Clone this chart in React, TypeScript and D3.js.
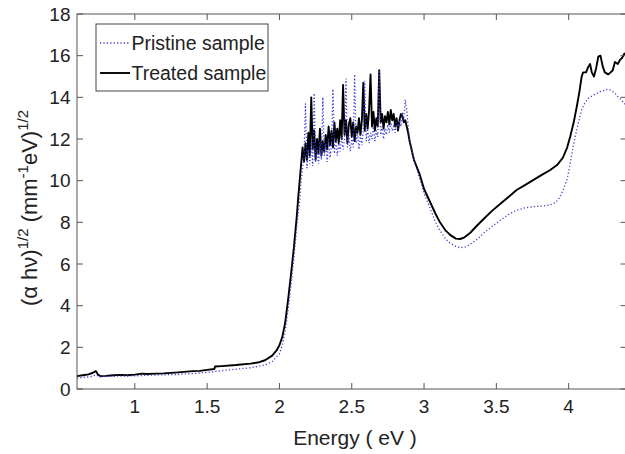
import React from "react";
import * as d3 from "d3";

const treatedLow: [number, number][] = [
  [0.6, 0.62], [0.64, 0.66], [0.68, 0.7], [0.71, 0.78], [0.73, 0.86], [0.745, 0.7], [0.76, 0.62],
  [0.8, 0.63], [0.85, 0.66], [0.9, 0.68], [0.95, 0.66], [1.0, 0.69], [1.05, 0.74], [1.08, 0.72],
  [1.15, 0.74], [1.2, 0.75], [1.3, 0.8], [1.4, 0.86], [1.45, 0.87], [1.5, 0.92], [1.55, 0.96],
  [1.555, 1.08], [1.6, 1.1], [1.7, 1.15], [1.8, 1.22], [1.85, 1.27], [1.9, 1.38], [1.95, 1.6],
  [1.98, 1.85], [2.0, 2.1], [2.02, 2.5], [2.04, 3.2], [2.06, 4.3], [2.08, 5.5], [2.1, 6.8],
  [2.12, 8.3], [2.13, 9.2],
];

// noisy plateau, 2.14 .. 2.90 at 0.01 eV steps
const treatedNoisy: number[] = [
  10.0, 10.8, 11.6, 10.9, 11.8, 11.0, 12.3, 11.2, 14.0, 11.5,
  12.4, 11.0, 12.0, 11.3, 12.5, 11.2, 11.9, 11.4, 12.2, 11.5,
  12.6, 11.7, 12.4, 11.6, 12.8, 11.9, 12.5, 11.8, 12.9, 12.0,
  14.6, 12.2, 12.9, 11.8, 12.7, 13.0, 12.1, 12.8, 11.9, 12.6,
  12.3, 13.0, 12.2, 12.9, 14.7, 12.4, 13.2, 12.5, 13.4, 15.1,
  12.6, 13.3, 12.4, 13.0, 12.6, 15.3, 12.8, 13.2, 12.5, 13.1,
  12.8, 13.3, 12.7, 13.4, 12.9, 13.2, 12.6, 13.0, 12.4, 12.9,
  13.2, 13.1, 12.8, 12.9, 12.6, 12.3, 11.9,
];

const treatedHigh: [number, number][] = [
  [2.93, 11.0], [2.97, 10.3], [3.0, 9.6], [3.04, 9.0], [3.08, 8.4], [3.11, 8.0], [3.15, 7.6],
  [3.18, 7.4], [3.22, 7.22], [3.25, 7.2], [3.28, 7.28], [3.32, 7.5], [3.36, 7.8], [3.41, 8.15],
  [3.47, 8.55], [3.53, 8.9], [3.59, 9.25], [3.64, 9.55], [3.7, 9.8], [3.76, 10.05], [3.82, 10.3],
  [3.87, 10.5], [3.92, 10.75], [3.96, 11.1], [3.99, 11.6], [4.01, 12.1], [4.035, 12.8],
  [4.056, 13.55], [4.075, 14.3], [4.09, 15.0], [4.1, 15.2], [4.12, 15.2], [4.135, 15.45],
  [4.148, 15.6], [4.16, 15.2], [4.175, 15.0], [4.19, 15.4], [4.205, 15.95], [4.22, 16.0],
  [4.235, 15.5], [4.25, 15.2], [4.274, 15.1], [4.29, 15.2], [4.305, 15.3], [4.32, 15.7],
  [4.34, 15.6], [4.355, 15.8], [4.37, 15.9], [4.385, 16.1], [4.4, 16.0],
];

const pristineLow: [number, number][] = [
  [0.6, 0.52], [0.65, 0.56], [0.7, 0.6], [0.73, 0.68], [0.76, 0.58], [0.8, 0.6], [0.9, 0.62],
  [1.0, 0.63], [1.1, 0.66], [1.2, 0.68], [1.3, 0.7], [1.4, 0.74], [1.5, 0.8], [1.6, 0.88],
  [1.7, 0.95], [1.8, 1.02], [1.9, 1.15], [1.95, 1.32], [2.0, 1.7], [2.02, 2.1], [2.04, 2.8],
  [2.06, 3.8], [2.08, 5.0], [2.1, 6.3], [2.12, 7.8], [2.13, 8.5],
];

const pristineNoisy: number[] = [
  9.0, 10.0, 10.6, 11.2, 13.7, 10.6, 11.5, 10.8, 11.9, 10.7,
  14.2, 10.9, 11.6, 10.8, 11.9, 11.0, 14.0, 11.2, 11.8, 10.9,
  12.0, 11.1, 11.7, 14.4, 11.3, 12.0, 11.2, 11.8, 11.4, 12.1,
  11.5, 12.0, 14.9, 11.6, 12.2, 11.4, 12.0, 11.6, 15.1, 11.8,
  12.3, 11.5, 12.2, 11.7, 12.4, 14.8, 11.9, 12.5, 11.8, 12.3,
  12.0, 12.6, 11.9, 12.4, 12.1, 15.3, 12.2, 12.6, 12.0, 12.5,
  12.2, 12.7, 12.3, 12.8, 12.4, 12.6, 12.3, 12.8, 12.5, 12.9,
  12.6, 13.3, 12.9, 13.9, 13.4, 12.6, 12.0,
];

const pristineHigh: [number, number][] = [
  [2.93, 11.0], [2.97, 10.1], [3.0, 9.4], [3.04, 8.7], [3.08, 8.0], [3.11, 7.6], [3.15, 7.2],
  [3.18, 7.0], [3.22, 6.85], [3.25, 6.78], [3.29, 6.82], [3.33, 7.0], [3.37, 7.2], [3.41, 7.47],
  [3.47, 7.8], [3.53, 8.12], [3.59, 8.4], [3.64, 8.58], [3.7, 8.7], [3.76, 8.75], [3.82, 8.78],
  [3.87, 8.83], [3.91, 8.95], [3.94, 9.2], [3.965, 9.6], [3.99, 10.1], [4.01, 10.8], [4.03, 11.6],
  [4.056, 12.45], [4.075, 13.0], [4.09, 13.4], [4.11, 13.7], [4.135, 13.95], [4.17, 14.1],
  [4.217, 14.27], [4.263, 14.38], [4.29, 14.35], [4.32, 14.2], [4.345, 14.0], [4.366, 13.87],
  [4.38, 13.75], [4.4, 13.6],
];

const xTicks = [1, 1.5, 2, 2.5, 3, 3.5, 4];
const yTicks = [0, 2, 4, 6, 8, 10, 12, 14, 16, 18];
const legendLabels = ["Pristine sample", "Treated sample"];

const noisyStart = 2.14;
const noisyStep = 0.01;

function assemble(low: [number, number][], noisy: number[], high: [number, number][]) {
  const mid: [number, number][] = noisy.map((v, i) => [+(noisyStart + i * noisyStep).toFixed(3), v]);
  return [...low, ...mid, ...high];
}

const W = 625;
const H = 454;
const left = 77;
const right = 626.5;
const top = 14;
const bottom = 389;

export default function App() {
  const x = d3.scaleLinear().domain([0.6, 4.4]).range([left, right]);
  const y = d3.scaleLinear().domain([0, 18]).range([bottom, top]);
  const line = d3
    .line<[number, number]>()
    .x((d) => x(d[0]))
    .y((d) => y(d[1]));

  const treated = assemble(treatedLow, treatedNoisy, treatedHigh);
  const pristine = assemble(pristineLow, pristineNoisy, pristineHigh);

  const axisColor = "#555";
  const font = "'Liberation Sans', Arial, Helvetica, sans-serif";
  const tl = 6;

  return (
    <svg
      width={W}
      height={H}
      style={{ position: "absolute", left: 0, top: 0, background: "#fff" }}
      fontFamily={font}
    >
      <rect x={0} y={0} width={W} height={H} fill="#fff" />
      {/* curves */}
      <path d={line(treated) ?? ""} fill="none" stroke="#000" strokeWidth={1.9} strokeLinejoin="round" />
      <path
        d={line(pristine) ?? ""}
        fill="none"
        stroke="#3a3ad6"
        strokeWidth={1.3}
        strokeDasharray="1.2 2.2"
      />
      {/* box */}
      <rect x={left} y={top} width={right - left} height={bottom - top} fill="none" stroke={axisColor} strokeWidth={1} />
      {xTicks.map((t) => (
        <g key={"x" + t}>
          <line x1={x(t)} x2={x(t)} y1={bottom} y2={bottom - tl} stroke={axisColor} />
          <line x1={x(t)} x2={x(t)} y1={top} y2={top + tl} stroke={axisColor} />
          <text x={x(t)} y={413} textAnchor="middle" fontSize={19} fill="#222">
            {t}
          </text>
        </g>
      ))}
      {yTicks.map((t) => (
        <g key={"y" + t}>
          <line x1={left} x2={left + tl} y1={y(t)} y2={y(t)} stroke={axisColor} />
          <line x1={right} x2={right - tl} y1={y(t)} y2={y(t)} stroke={axisColor} />
          <text x={70.5} y={y(t) + 6.8} textAnchor="end" fontSize={19} fill="#222">
            {t}
          </text>
        </g>
      ))}
      {/* x label */}
      <text x={355} y={445} textAnchor="middle" fontSize={21} fill="#222">
        Energy ( eV )
      </text>
      {/* y label */}
      <text transform="translate(37,208) rotate(-90)" textAnchor="middle" fontSize={22} fill="#222">
        <tspan>(α hν)</tspan>
        <tspan fontSize={15} dy={-9}>1/2</tspan>
        <tspan dy={9}> (mm</tspan>
        <tspan fontSize={15} dy={-9}>-1</tspan>
        <tspan dy={9}>eV)</tspan>
        <tspan fontSize={15} dy={-9}>1/2</tspan>
      </text>
      {/* legend */}
      <rect x={96} y={24} width={172} height={67} fill="#fff" stroke="#444" strokeWidth={1} />
      <line x1={100} x2={130} y1={43} y2={43} stroke="#3a3ad6" strokeWidth={1.3} strokeDasharray="1.2 2.2" />
      <line x1={100} x2={130} y1={73} y2={73} stroke="#000" strokeWidth={1.9} />
      <text x={131.5} y={49.5} fontSize={19.5} fill="#222">
        {legendLabels[0]}
      </text>
      <text x={131.5} y={80} fontSize={19.5} fill="#222">
        {legendLabels[1]}
      </text>
    </svg>
  );
}
